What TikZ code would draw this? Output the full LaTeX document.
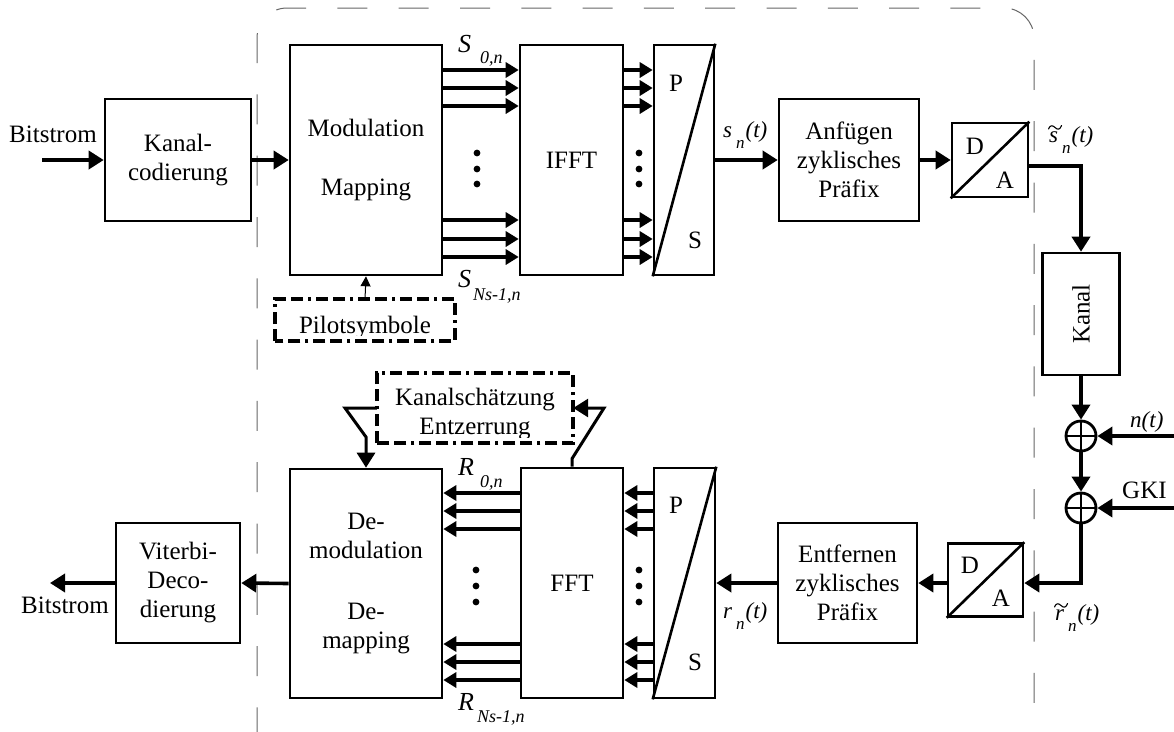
\documentclass[tikz,border=0pt]{standalone}
\usepackage{fontspec}
\setmainfont{Liberation Serif}
\usetikzlibrary{arrows.meta,calc}

% symbol with a lowered index, e.g. S_{0,n}
\newcommand\subsym[4]{{\fontsize{26}{26}\selectfont\itshape #1}\hspace{#2}\raisebox{-#3}{\fontsize{18}{18}\selectfont\itshape #4}}
% time signal x_n(t)
\newcommand\sigl[1]{{\fontsize{23}{23}\selectfont\itshape #1\hspace{4pt}\raisebox{-11pt}{\fontsize{17}{17}\selectfont n}\hspace{1pt}(t)}}

\begin{document}
\begin{tikzpicture}[x=1pt,y=-1pt,
  every node/.style={font=\fontsize{25}{29}\selectfont},
  box/.style={draw, line width=2.6pt, inner sep=0pt, align=center},
  ghost/.style={inner sep=0pt},
  lbl/.style={anchor=base west, inner sep=0pt},
  arr/.style={line width=3.6pt, -{Triangle[length=15pt,width=18pt]}},
  bus/.style={line width=3.8pt, -{Triangle[length=13pt,width=15pt]}},
  thinarr/.style={line width=1pt, -{Triangle[length=10pt,width=10pt]}},
  fb/.style={line width=3pt, line join=miter},
  dashdot/.style={line width=3.5pt, dash pattern=on 12pt off 5pt on 12pt off 5pt on 3pt off 5pt},
  frame/.style={draw=black!60, line width=1pt, rounded corners=30pt, dash pattern=on 30pt off 31.3pt, dash phase=28.7pt},
  dot/.style={fill=black},
  tildemark/.style={line width=1.1pt, line cap=round},
  sumnode/.style={draw, circle, line width=2.8pt, minimum size=30pt, inner sep=0pt}
]
\useasboundingbox (0,0) rectangle (1174,731);

% dashed frame around the OFDM part
\draw[frame] (257,770) -- (257,8) -- (1034,8) -- (1034,770);

% ---------------- transmitter ----------------
\node[box, minimum width=146pt, minimum height=122pt] (kc)  at (178,160) {Kanal-\\codierung};
\node[box, minimum width=152pt, minimum height=230pt] (mod) at (366,160) {Modulation\\[30pt]Mapping};
\node[box, minimum width=103pt, minimum height=230pt] (ifft) at (571.5,160) {IFFT};
\node[box, minimum width=60pt, minimum height=230pt] (ps1) at (684,160) {};
\draw[line width=2.6pt] (ps1.south west) -- (ps1.north east);
\node (ps1p) at (676,83) {P};
\node (ps1s) at (695,240) {S};
\node[box, minimum width=140pt, minimum height=122pt] (anf) at (849,160) {Anfügen\\zyklisches\\Präfix};
\node[box, minimum width=76pt, minimum height=74pt] (da1) at (990,160) {};
\draw[line width=2.6pt] (da1.south west) -- (da1.north east);
\node (da1d) at (975,146) {D};
\node (da1a) at (1005,180) {A};

\coordinate (bin) at (42,160);
\node[lbl] (bintxt) at (9,142) {Bitstrom};
\draw[arr] (bin) -- (kc.west);
\draw[arr] (kc.east) -- (mod.west);
\foreach \yy in {70,88,106,220,239,257}{
  \draw[bus] (mod.east |- 0,\yy) -- (ifft.west |- 0,\yy);
  \draw[bus] (ifft.east |- 0,\yy) -- (ps1.west |- 0,\yy);
}
\foreach \yy in {153,169,184}{
  \fill[dot] (477,\yy) circle[radius=3.4pt];
  \fill[dot] (639,\yy) circle[radius=3.4pt];
}
\node[lbl] (s0) at (458,52) {\subsym{S}{9pt}{11pt}{0,n}};
\node[lbl] (sN) at (458,287) {\subsym{S}{2pt}{13pt}{Ns-1,n}};
\draw[arr] (ps1.east) -- (anf.west);
\node[lbl] (sn) at (723,137) {\sigl{s}};
\draw[arr] (anf.east) -- (da1.west);
\node[lbl] (snt) at (1049,142) {\sigl{s}};
\begin{scope}[shift={(snt.base west)}]
  \draw[tildemark] (-0.5,-13) .. controls (1,-17) and (3.5,-17) .. (6,-14.5) .. controls (8.5,-12) and (11,-12) .. (12.5,-16.5);
\end{scope}

% pilot symbols
\node[ghost, minimum width=180pt, minimum height=42pt] (pilot) at (365,320) {};
\begin{scope}
  \clip (pilot.north west) rectangle ([yshift=6pt]pilot.south east);
  \node[anchor=base] (pilottxt) at (365,333) {Pilotsymbole};
\end{scope}
\draw[dashdot] (pilot.south west) rectangle (pilot.north east);
\draw[thinarr] (pilot.north) -- (mod.south);

% ---------------- channel ----------------
\node[box, minimum width=77pt, minimum height=122pt] (kanal) at (1081,314) {};
\node[rotate=90] (kanaltxt) at (1081,314) {Kanal};
\draw[arr] ([yshift=-6pt]da1.east) -| (kanal.north);
\node[sumnode] (c1) at (1081,436) {};
\draw[line width=2.8pt] (c1.north) -- (c1.south) (c1.west) -- (c1.east);
\node[sumnode] (c2) at (1081,508) {};
\draw[line width=2.8pt] (c2.north) -- (c2.south) (c2.west) -- (c2.east);
\draw[arr] (kanal.south) -- (c1.north);
\draw[arr] (c1.south) -- (c2.north);
\coordinate (nin) at (1176,436);
\coordinate (gin) at (1176,508);
\draw[arr] (nin) -- (c1.east);
\draw[arr] (gin) -- (c2.east);
\node[lbl] (nt) at (1130,427) {\fontsize{23}{23}\selectfont\itshape n(t)};
\node[lbl] (gki) at (1122,498) {GKI};

% ---------------- receiver ----------------
\coordinate (rl) at (0,583);
\node[box, minimum width=75pt, minimum height=73pt] (da2) at (985.5,580) {};
\draw[line width=2.6pt] (da2.south west) -- (da2.north east);
\node (da2d) at (970,565) {D};
\node (da2a) at (1001,598) {A};
\draw[arr] (c2.south) |- (da2.east |- rl);
\node[lbl] (rnt) at (1055,620) {\sigl{r}};
\begin{scope}[shift={(rnt.base west)}]
  \draw[tildemark] (-0.5,-13) .. controls (1,-17) and (3.5,-17) .. (6,-14.5) .. controls (8.5,-12) and (11,-12) .. (12.5,-16.5);
\end{scope}
\node[box, minimum width=139pt, minimum height=120pt] (ent) at (847.5,583) {Entfernen\\zyklisches\\Präfix};
\draw[arr] (da2.west |- rl) -- (ent.east);
\node[box, minimum width=61pt, minimum height=230pt] (ps2) at (684.5,583) {};
\draw[line width=2.6pt] (ps2.south west) -- (ps2.north east);
\node (ps2p) at (676,505) {P};
\node (ps2s) at (695,662) {S};
\draw[arr] (ent.west) -- (ps2.east);
\node[lbl] (rn) at (723,618) {\sigl{r}};
\node[box, minimum width=102pt, minimum height=230pt] (fft) at (572,583) {FFT};
\node[box, minimum width=152pt, minimum height=229pt] (dem) at (366,583.5) {De-\\modulation\\[32pt]De-\\mapping};
\foreach \yy in {493,511,529,644,662,680}{
  \draw[bus] (ps2.west |- 0,\yy) -- (fft.east |- 0,\yy);
  \draw[bus] (fft.west |- 0,\yy) -- (dem.east |- 0,\yy);
}
\foreach \yy in {570,586,602}{
  \fill[dot] (476,\yy) circle[radius=3.4pt];
  \fill[dot] (639,\yy) circle[radius=3.4pt];
}
\node[lbl] (r0) at (458,475) {\subsym{R}{6pt}{12pt}{0,n}};
\node[lbl] (rN) at (458,710) {\subsym{R}{3pt}{12pt}{Ns-1,n}};
\node[box, minimum width=124pt, minimum height=120pt] (vit) at (178,583) {Viterbi-\\Deco-\\dierung};
\draw[arr] (dem.west) -- (vit.east);
\coordinate (bout) at (50,583);
\draw[arr] (vit.west) -- (bout);
\node[lbl] (bouttxt) at (21,613) {Bitstrom};

% channel estimation / equalisation
\node[ghost, minimum width=196pt, minimum height=70pt] (kse) at (475,408) {};
\begin{scope}
  \clip (kse.north west) rectangle ([yshift=6pt]kse.south east);
  \node[anchor=base] (ksetxt) at (475,405) {Kanalschätzung};
  \node[anchor=base] (ksetxt2) at (475,434) {Entzerrung};
\end{scope}
\draw[dashdot] (kse.south west) rectangle (kse.north east);
\coordinate (fbR) at (604,408);
\coordinate (fbL1) at (345,408);
\coordinate (fbL2) at (366,437);
\draw[fb, -{Triangle[length=15pt,width=18pt]}] (fft.north) -- ++(0,-8) -- (fbR) -- (kse.east);
\draw[fb, -{Triangle[length=15pt,width=18pt]}] (kse.west) -- (fbL1) -- (fbL2) -- (dem.north);
\end{tikzpicture}
\end{document}
